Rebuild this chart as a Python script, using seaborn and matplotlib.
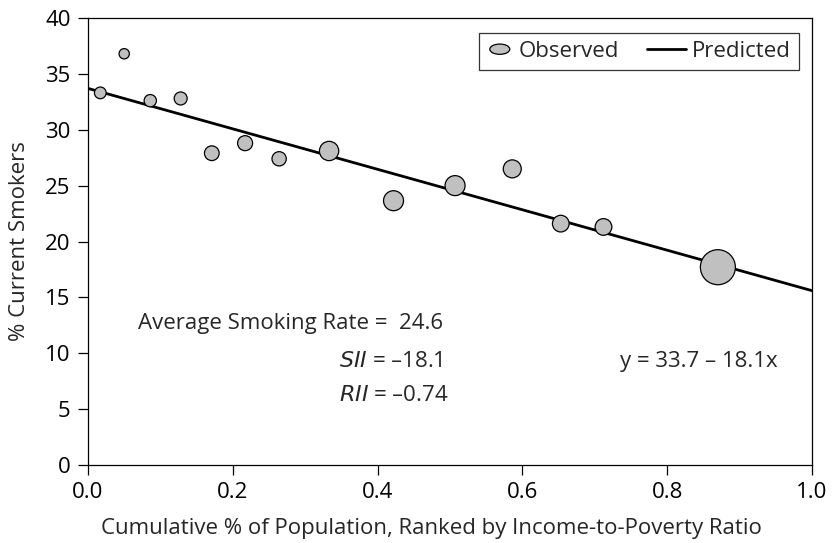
import numpy as np
import pandas as pd
import matplotlib
matplotlib.use("Agg")
import matplotlib.pyplot as plt
import matplotlib.patches as mpatches
from matplotlib.lines import Line2D
import seaborn as sns

# ---- data ----
cum_pop = [0.017, 0.050, 0.086, 0.128, 0.171, 0.217, 0.264, 0.333,
           0.422, 0.507, 0.586, 0.653, 0.712, 0.870]
pct_smokers = [33.3, 36.8, 32.6, 32.8, 27.9, 28.8, 27.4, 28.1,
               23.65, 25.0, 26.5, 21.6, 21.3, 17.7]
bubble_weight = [2.95, 2.29, 3.26, 3.64, 4.66, 4.85, 4.41, 8.03,
                 8.62, 8.62, 6.98, 6.01, 6.01, 26.4]
line_x = [0.0, 1.0]
line_y = [33.7, 15.6]
x_ticks = [0.0, 0.2, 0.4, 0.6, 0.8, 1.0]
y_ticks = [0, 5, 10, 15, 20, 25, 30, 35, 40]

df = pd.DataFrame({"x": cum_pop, "y": pct_smokers, "w": bubble_weight})
line_df = pd.DataFrame({"x": line_x, "y": line_y})

sns.set_style("ticks")
plt.rcParams["font.family"] = ["Open Sans", "DejaVu Sans"]
FS = 16
FILL = "#c0c0c0"

fig = plt.figure(figsize=(8.35, 5.43), dpi=100)
ax = fig.add_axes([88 / 835, 1 - 465 / 543, 724 / 835, 447 / 543])

# max area for the largest bubble (35 px diameter)
max_area = (35 / (100 / 72)) ** 2
sns.lineplot(data=line_df, x="x", y="y", ax=ax, color="black", lw=2.0,
             zorder=2, legend=False)
sns.scatterplot(data=df, x="x", y="y", size="w", ax=ax,
                sizes=(0, max_area), size_norm=(0, max(bubble_weight)),
                color=FILL, edgecolor="black", linewidth=0.9,
                zorder=3, legend=False)

ax.set_xlim(0, 1.0)
ax.set_ylim(0, 40)
ax.set_xticks(x_ticks)
ax.set_xticklabels([f"{t:.1f}" for t in x_ticks])
ax.set_yticks(y_ticks)
ax.set_yticklabels([str(t) for t in y_ticks])
ax.tick_params(axis="both", direction="out", length=7.5, width=0.9,
               labelsize=FS, colors="black", pad=5)
for s in ax.spines.values():
    s.set_visible(True)
    s.set_linewidth(0.9)
    s.set_color("black")

ax.set_xlabel("Cumulative % of Population, Ranked by Income-to-Poverty Ratio",
              fontsize=FS)
ax.set_ylabel("% Current Smokers", fontsize=FS)
ax.xaxis.set_label_coords(0.475, -0.118)
ax.yaxis.set_label_coords(-0.08, 0.5)

# annotations
ax.text(0.49, 12.7, "Average Smoking Rate =  24.6", fontsize=FS,
        ha="right", va="center")
ax.text(0.49, 9.3, r"$\it{SII}$ = –18.1", fontsize=FS, ha="right", va="center")
ax.text(0.498, 6.25, r"$\it{RII}$ = –0.74", fontsize=FS, ha="right", va="center")
ax.text(0.735, 9.3, "y = 33.7 – 18.1x", fontsize=FS, ha="left", va="center")


# legend handlers (units: points inside the handle box)
class EllipseHandler:
    def legend_artist(self, legend, orig_handle, fontsize, handlebox):
        x0, y0 = handlebox.xdescent, handlebox.ydescent
        h = handlebox.height
        e = mpatches.Ellipse((x0 + 9.5, y0 + h / 2), 14.4, 7.4,
                             facecolor=FILL, edgecolor="black", lw=0.9,
                             transform=handlebox.get_transform())
        handlebox.add_artist(e)
        return e


class LongLineHandler:
    def legend_artist(self, legend, orig_handle, fontsize, handlebox):
        x0, y0 = handlebox.xdescent, handlebox.ydescent
        w, h = handlebox.width, handlebox.height
        ln = Line2D([x0 + w - 28.0, x0 + w], [y0 + h / 2, y0 + h / 2],
                    color="black", lw=2.0,
                    transform=handlebox.get_transform())
        handlebox.add_artist(ln)
        return ln


h_obs = mpatches.Ellipse((0, 0), 1, 1)
h_pred = Line2D([], [], color="black", lw=2.0)
leg = ax.legend([h_obs, h_pred], ["Observed", "Predicted"], ncol=2,
                handler_map={mpatches.Ellipse: EllipseHandler(),
                             Line2D: LongLineHandler()},
                loc="upper right", bbox_to_anchor=(0.982, 0.966),
                borderaxespad=0, fontsize=FS, frameon=True, fancybox=False,
                handlelength=1.15, handletextpad=0.3, columnspacing=1.84,
                borderpad=0.35)
leg.get_frame().set_edgecolor("black")
leg.get_frame().set_linewidth(0.9)

fig.savefig("out.png", dpi=100)
